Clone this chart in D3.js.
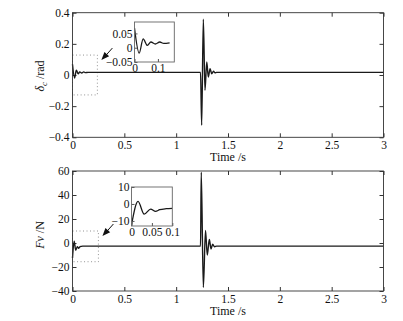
<!DOCTYPE html>
<html>
<head>
<meta charset="utf-8">
<script src="https://cdn.jsdelivr.net/npm/d3@7"></script>
<style>
  body { margin: 0; background: #fff; }
  svg { display: block; font-family: "Liberation Serif", "Times New Roman", serif; }
</style>
</head>
<body>
<div id="chart"></div>
<script>
// time (s) and rudder deflection (rad)
var timeDelta = [0, 0.02, 0.037, 0.055, 0.07, 0.089, 0.108, 0.125, 0.15, 1.235, 1.246, 1.262, 1.278, 1.295, 1.31, 1.327, 1.343, 1.36, 1.375, 1.39, 3];
var deltaC    = [0.069, -0.019, 0.031, 0.008, 0.02, 0.013, 0.02, 0.015, 0.017, 0.017, -0.323, 0.358, -0.098, 0.083, -0.013, 0.04, 0.008, 0.024, 0.014, 0.017, 0.017];

// time (s) and force Fv (N), lower panel
var timeForce = [0, 0.016, 0.031, 0.047, 0.059, 0.069, 0.085, 0.1, 1.235, 1.242, 1.262, 1.283, 1.3, 1.32, 1.336, 1.352, 1.37, 1.39, 3];
var forceFv   = [-12.5, 1.5, -6, -3, -4.4, -3.4, -2.8, -2.6, -2.6, 59, -37, 10.5, -10, 3, -5, -1, -3.2, -2.6, -2.6];

var xTicks = [0, 0.5, 1, 1.5, 2, 2.5, 3];
var deltaTicks = [-0.4, -0.2, 0, 0.2, 0.4];
var forceTicks = [-40, -20, 0, 20, 40, 60];

// inset (zoom) settings
var insetDeltaX = [0, 0.17], insetDeltaY = [-0.05, 0.09];
var insetDeltaXTicks = [0, 0.1], insetDeltaYTicks = [-0.05, 0, 0.05];
var insetForceX = [0, 0.1], insetForceY = [-13, 10];
var insetForceXTicks = [0, 0.05, 0.1], insetForceYTicks = [-10, 0, 10];

// dotted zoom boxes in data units [t0, t1, y0, y1]
var zoomBoxDelta = [0, 0.24, -0.128, 0.128];
var zoomBoxForce = [0, 0.25, -15.6, 10];

var width = 403, height = 321;
var fmt = d3.format("~g");

var svg = d3.select("#chart").append("svg")
  .attr("width", width)
  .attr("height", height);

function drawPanel(o) {
  var x = d3.scaleLinear().domain([0, 3]).range([o.left, o.right]);
  var y = d3.scaleLinear().domain(o.yDomain).range([o.bottom, o.top]);
  var g = svg.append("g");

  // ticks inside on all four sides
  var ax = [
    [d3.axisBottom(x).tickValues(xTicks).tickFormat(fmt), o.bottom, 0, true],
    [d3.axisTop(x).tickValues(xTicks).tickFormat(""), o.top, 0, false],
    [d3.axisLeft(y).tickValues(o.yTicks).tickFormat(fmt), 0, o.left, true],
    [d3.axisRight(y).tickValues(o.yTicks).tickFormat(""), 0, o.right, false]
  ];
  ax.forEach(function(a) {
    var s = g.append("g")
      .attr("transform", "translate(" + a[2] + "," + a[1] + ")")
      .call(a[0].tickSizeInner(-4).tickSizeOuter(0).tickPadding(a[0] === ax[0][0] ? 4 : 3));
    s.select(".domain").remove();
    s.selectAll(".tick line").attr("stroke", "#333");
    s.selectAll("text").attr("font-size", 11.5).attr("fill", "#111")
      .attr("font-family", "Liberation Serif");
  });

  // dotted zoom box
  var b = o.zoomBox;
  g.append("rect")
    .attr("x", x(b[0])).attr("y", y(b[3]))
    .attr("width", x(b[1]) - x(b[0])).attr("height", y(b[2]) - y(b[3]))
    .attr("fill", "none").attr("stroke", "#777").attr("stroke-width", 0.8)
    .attr("stroke-dasharray", "1,2.5");

  var line = d3.line()
    .x(function(d) { return x(d[0]); })
    .y(function(d) { return y(d[1]); })
    .curve(d3.curveMonotoneX);

  var pts = o.t.map(function(t, i) { return [t, o.v[i]]; });

  g.append("path")
    .datum(pts)
    .attr("d", line)
    .attr("fill", "none")
    .attr("stroke", "#1a1a1a")
    .attr("stroke-width", 1.4);

  // frame
  g.append("rect")
    .attr("x", o.left).attr("y", o.top)
    .attr("width", o.right - o.left).attr("height", o.bottom - o.top)
    .attr("fill", "none").attr("stroke", "#333").attr("stroke-width", 0.9);

  // arrow towards zoom box corner
  var cx = x(b[1]), cy = y(b[3]);
  var ax0 = cx + 15, ay0 = cy - 7, ax1 = cx + 4, ay1 = cy + 5;
  g.append("line")
    .attr("x1", ax0).attr("y1", ay0).attr("x2", ax1 + 3).attr("y2", ay1 - 3)
    .attr("stroke", "#111").attr("stroke-width", 1);
  var ang = Math.atan2(ay1 - ay0, ax1 - ax0);
  var L = 8, Wd = 3.2;
  var p1 = [ax1 - L * Math.cos(ang) + Wd * Math.sin(ang), ay1 - L * Math.sin(ang) - Wd * Math.cos(ang)];
  var p2 = [ax1 - L * Math.cos(ang) - Wd * Math.sin(ang), ay1 - L * Math.sin(ang) + Wd * Math.cos(ang)];
  g.append("path")
    .attr("d", "M" + ax1 + "," + ay1 + "L" + p1 + "L" + p2 + "Z")
    .attr("fill", "#111");

  // inset
  var ix = d3.scaleLinear().domain(o.inX).range([o.inBox[0], o.inBox[1]]);
  var iy = d3.scaleLinear().domain(o.inY).range([o.inBox[3], o.inBox[2]]);
  var ig = svg.append("g");
  ig.append("rect")
    .attr("x", o.inBox[0]).attr("y", o.inBox[2])
    .attr("width", o.inBox[1] - o.inBox[0]).attr("height", o.inBox[3] - o.inBox[2])
    .attr("fill", "#fff");
  ig.append("clipPath").attr("id", o.id)
    .append("rect")
    .attr("x", o.inBox[0]).attr("y", o.inBox[2])
    .attr("width", o.inBox[1] - o.inBox[0]).attr("height", o.inBox[3] - o.inBox[2]);

  var iline = d3.line()
    .x(function(d) { return ix(d[0]); })
    .y(function(d) { return iy(d[1]); })
    .curve(d3.curveMonotoneX);
  ig.append("path")
    .datum(pts.filter(function(d) { return d[0] <= o.inX[1] + 0.2; }))
    .attr("clip-path", "url(#" + o.id + ")")
    .attr("d", iline)
    .attr("fill", "none").attr("stroke", "#1a1a1a").attr("stroke-width", 1.3);

  var ia = [
    [d3.axisBottom(ix).tickValues(o.inXTicks).tickFormat(fmt), o.inBox[3], 0],
    [d3.axisLeft(iy).tickValues(o.inYTicks).tickFormat(fmt), 0, o.inBox[0]]
  ];
  ia.forEach(function(a) {
    var s = ig.append("g")
      .attr("transform", "translate(" + a[2] + "," + a[1] + ")")
      .call(a[0].tickSizeInner(-3).tickSizeOuter(0).tickPadding(2));
    s.select(".domain").remove();
    s.selectAll(".tick line").attr("stroke", "#555");
    s.selectAll("text").attr("font-size", 11.5).attr("fill", "#111")
      .attr("font-family", "Liberation Serif");
  });
  ig.append("rect")
    .attr("x", o.inBox[0]).attr("y", o.inBox[2])
    .attr("width", o.inBox[1] - o.inBox[0]).attr("height", o.inBox[3] - o.inBox[2])
    .attr("fill", "none").attr("stroke", "#666").attr("stroke-width", 0.9);

  // x label
  svg.append("text")
    .attr("x", (o.left + o.right) / 2).attr("y", o.bottom + 24)
    .attr("text-anchor", "middle").attr("font-size", 12).attr("fill", "#111")
    .text("Time /s");

  return g;
}

drawPanel({
  id: "clipA", left: 72.5, right: 383.5, top: 12.7, bottom: 137.3,
  yDomain: [-0.4, 0.4], yTicks: deltaTicks, t: timeDelta, v: deltaC,
  zoomBox: zoomBoxDelta,
  inX: insetDeltaX, inY: insetDeltaY, inXTicks: insetDeltaXTicks, inYTicks: insetDeltaYTicks,
  inBox: [134.5, 174.3, 22, 62]
});

drawPanel({
  id: "clipB", left: 72.5, right: 383.5, top: 171, bottom: 291,
  yDomain: [-40, 60], yTicks: forceTicks, t: timeForce, v: forceFv,
  zoomBox: zoomBoxForce,
  inX: insetForceX, inY: insetForceY, inXTicks: insetForceXTicks, inYTicks: insetForceYTicks,
  inBox: [131.5, 172.3, 187, 226]
});

// y labels
var yl1 = svg.append("text")
  .attr("transform", "translate(44,76) rotate(-90)")
  .attr("text-anchor", "middle").attr("font-size", 12).attr("fill", "#111");
yl1.append("tspan").attr("font-style", "italic").text("δ");
yl1.append("tspan").attr("font-style", "italic").attr("font-size", 9).attr("dy", 3).text("c");
yl1.append("tspan").attr("dy", -3).text(" /rad");

var yl2 = svg.append("text")
  .attr("transform", "translate(44,235) rotate(-90)")
  .attr("text-anchor", "middle").attr("font-size", 12).attr("fill", "#111");
yl2.append("tspan").attr("font-style", "italic").text("Fv");
yl2.append("tspan").text(" /N");
</script>
</body>
</html>
